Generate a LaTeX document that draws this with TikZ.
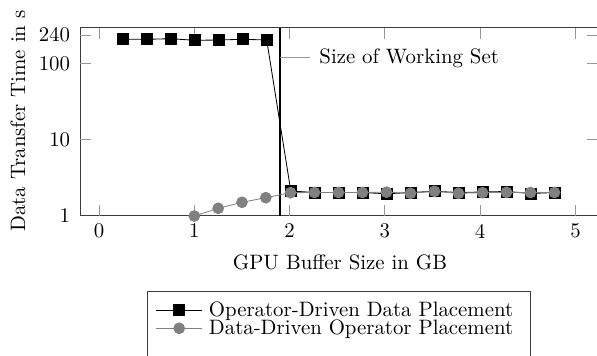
\documentclass[tikz,border=0pt]{standalone}
\usetikzlibrary{plotmarks}
\definecolor{markgray}{RGB}{128,128,128}
\definecolor{tickgray}{RGB}{150,150,150}
\definecolor{framegray}{RGB}{60,60,60}
\begin{document}
\begin{tikzpicture}[x=0.48pt,y=-0.48pt,
  frame/.style={draw=framegray,line width=0.4pt},
  tickline/.style={draw=tickgray,line width=0.4pt},
  ticklab/.style={font=\fontsize{10}{12}\selectfont,inner sep=0pt},
  seriesA/.style={draw=black,line width=0.4pt,mark=square*,mark size=2.65pt,mark options={fill=black,draw=black}},
  seriesB/.style={draw=markgray,line width=0.4pt,mark=*,mark size=2.6pt,mark options={fill=markgray,draw=markgray}},
  txt/.style={font=\fontsize{10}{12}\selectfont,inner sep=0pt}]
\useasboundingbox (0,0) rectangle (597,356);
% frame
\draw[frame] (598,27.5) -- (80,27.5) -- (80,215.5) -- (598,215.5) -- cycle;
% x ticks
\foreach \xv/\lab in {99/0,194.3/1,289.6/2,384.9/3,480.2/4,575.5/5}{
  \draw[tickline] (\xv,215.5) -- (\xv,204.5);
  \draw[tickline] (\xv,27.5) -- (\xv,38.5);
  \node[ticklab,anchor=center] (xl\lab) at (\xv,231) {\lab};
}
% y ticks
\foreach \yv/\lab in {139.5/10,63.5/100,35/240}{
  \draw[tickline] (80,\yv) -- (91,\yv);
  \draw[tickline] (598,\yv) -- (587,\yv);
}
\foreach \yv/\lab in {215.5/1,139.5/10,63.5/100,35/240}{
  \node[ticklab,anchor=east] (yl\lab) at (70.5,\yv) {\lab};
}
% axis labels
\node[txt,anchor=center] (xlabel) at (340,262) {GPU Buffer Size in GB};
\node[txt,anchor=center,rotate=90] (ylabel) at (18,121) {Data Transfer Time in s};
% working set line
\coordinate (wsT) at (280,27.5);
\coordinate (wsB) at (280,215.5);
\draw[black,line width=0.5pt] (wsT) -- (wsB);
\coordinate (wsA) at (280,57.5);
\coordinate (wsE) at (310,57.5);
\draw[tickline] (wsA) -- (wsE);
\node[txt,anchor=base west] (wslab) at (319,64) {Size of Working Set};
% series A
\draw[seriesA] plot coordinates {(123.3,39.3) (147,39.3) (171,38.7) (195,40.3) (219,40) (243,39.3) (266.7,40)
 (290.8,191) (314.5,192.5) (338.5,192.5) (362.5,192.5) (386.5,193.8) (410.5,192.5) (434.5,191.3) (458.5,192.5) (482.5,192) (506.5,191.5) (530.5,193.5) (554.5,192.5)};
% series B
\draw[seriesB] plot coordinates {(194.3,216) (218.2,208.3) (242,202.3) (265.8,197.7) (290.5,192.7)
 (314.5,192.5) (338.5,192.5) (362.5,192.5) (386.5,192.2) (410.5,193.3) (434.5,191.3) (458.5,193.3) (482.5,192.7) (506.5,192.3) (530.5,192.5) (554.5,192.5)};
% legend
\draw[frame] (147.3,360) -- (147.3,291.7) -- (530,291.7) -- (530,360);
\coordinate (la1) at (156,310); \coordinate (la2) at (201.7,310);
\coordinate (lb1) at (156,328.3); \coordinate (lb2) at (201.7,328.3);
\draw[draw=black,line width=0.4pt] (la1) -- (la2);
\draw[seriesA] plot coordinates {(179.2,310)};
\draw[draw=markgray,line width=0.4pt] (lb1) -- (lb2);
\draw[seriesB] plot coordinates {(179.2,328.3)};
\node[txt,anchor=base west] (legA) at (208.5,316) {Operator-Driven Data Placement};
\node[txt,anchor=base west] (legB) at (208.5,334.3) {Data-Driven Operator Placement};
\end{tikzpicture}
\end{document}
